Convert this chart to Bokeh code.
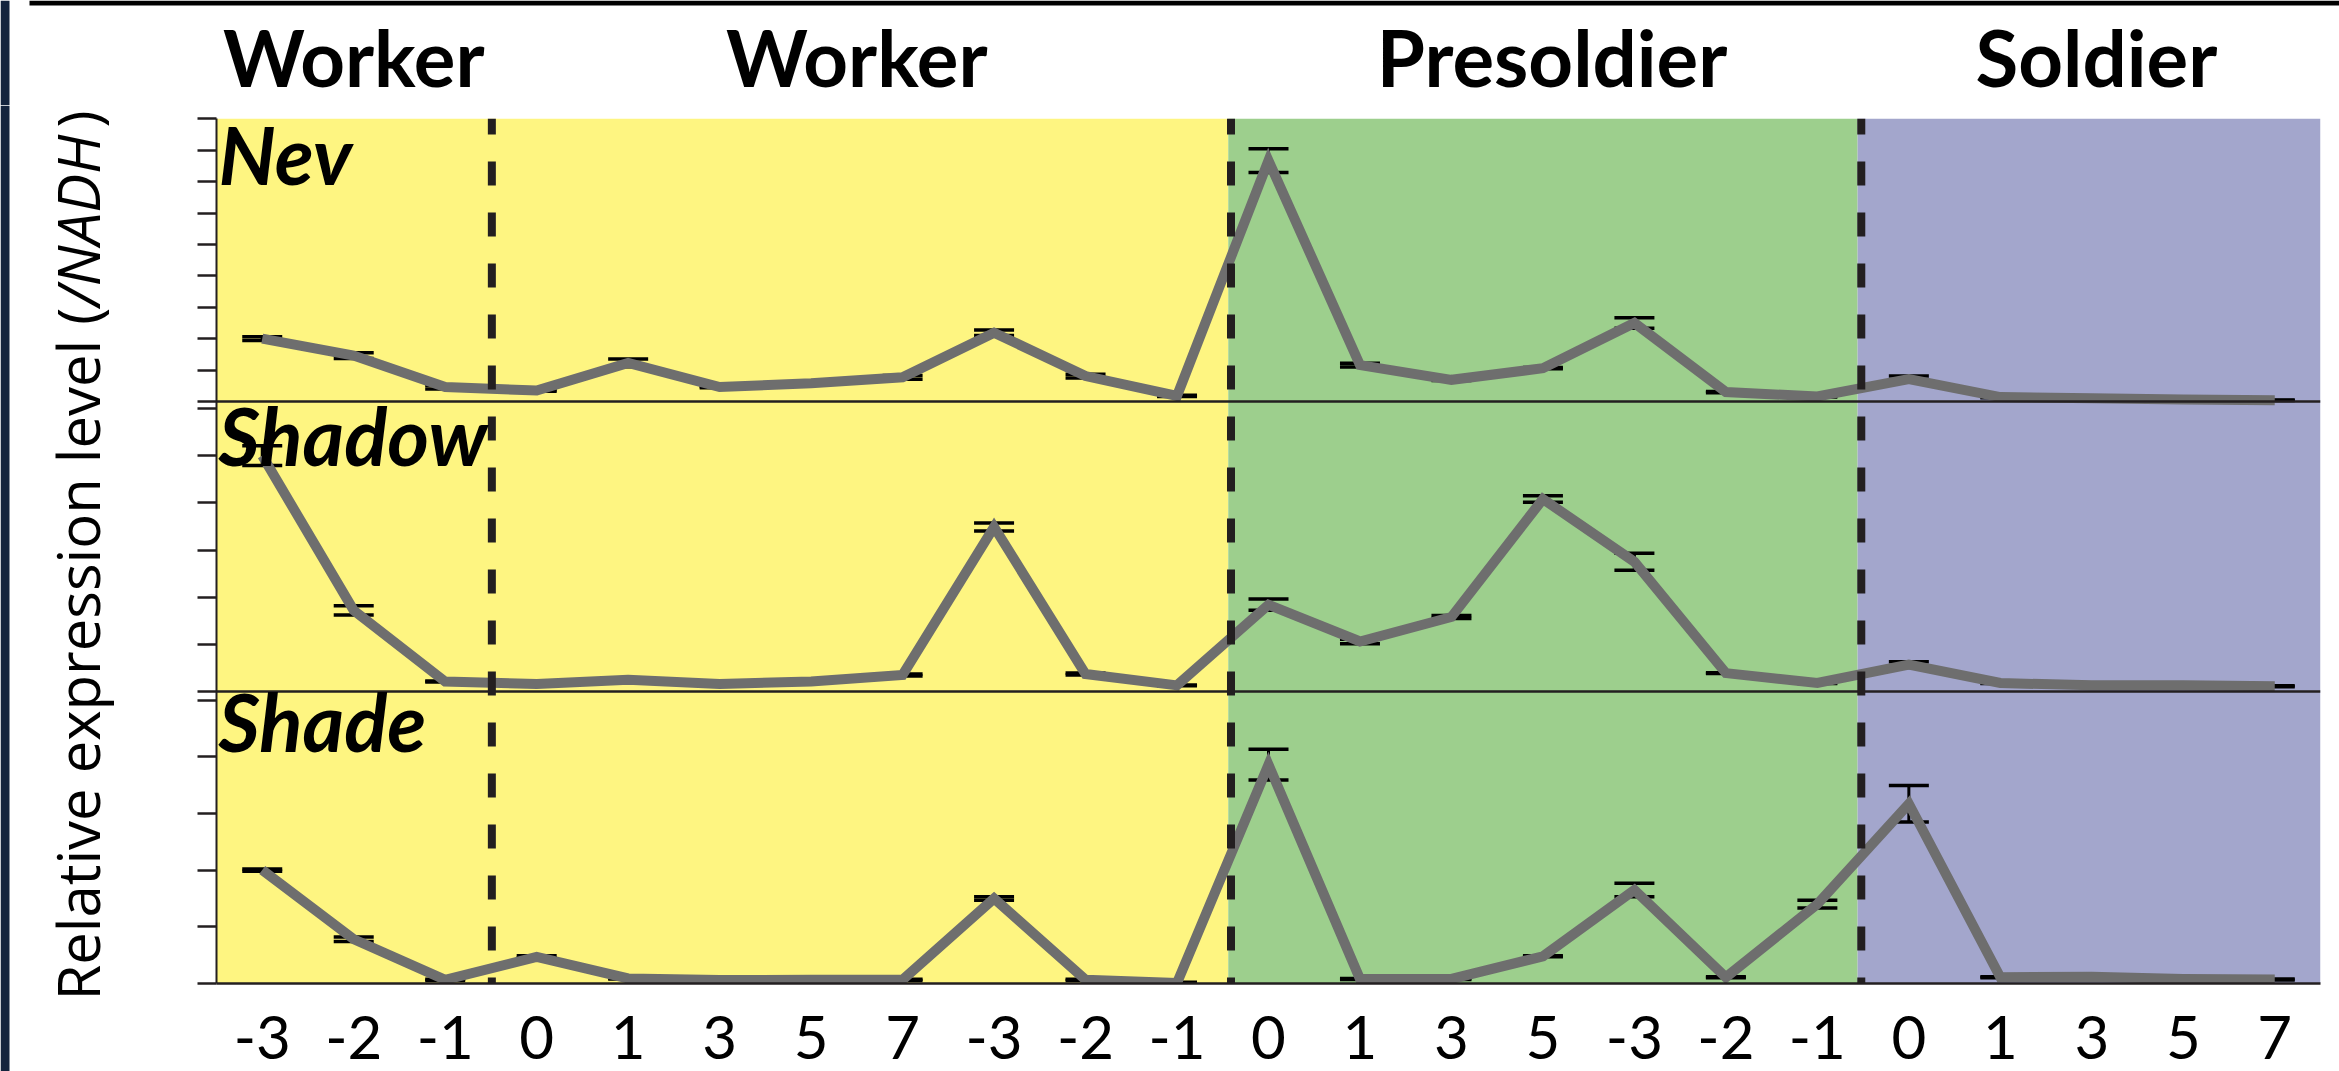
import numpy as np
from bokeh.plotting import figure
from bokeh.layouts import row, column
from bokeh.models import (Range1d, FixedTicker, CustomJSTickFormatter, BoxAnnotation,
                          Span, Label, Whisker, TeeHead, ColumnDataSource)
from bokeh.embed import file_html
from bokeh.resources import INLINE

# ---------------- data ----------------
stage_labels = ["-3", "-2", "-1", "0", "1", "3", "5", "7",
                "-3", "-2", "-1", "0", "1", "3", "5",
                "-3", "-2", "-1", "0", "1", "3", "5", "7"]

caste_names = ["Worker", "Worker", "Presoldier", "Soldier"]

nev_mean = [2.00, 1.46, 0.46, 0.35, 1.23, 0.46, 0.58, 0.77, 2.19, 0.81, 0.18,
            7.67, 1.16, 0.69, 1.06, 2.50, 0.30, 0.16,
            0.71, 0.14, 0.10, 0.06, 0.04]
nev_err = [0.06, 0.09, 0.06, 0.02, 0.12, 0.02, 0.03, 0.06, 0.09, 0.06, 0.02,
           0.38, 0.06, 0.02, 0.02, 0.17, 0.02, 0.02,
           0.10, 0.02, 0.01, 0.01, 0.01]

shadow_mean = [5.00, 1.72, 0.21, 0.16, 0.25, 0.16, 0.21, 0.35, 3.49, 0.37, 0.13,
               1.84, 1.06, 1.58, 4.08, 2.75, 0.39, 0.18,
               0.57, 0.18, 0.13, 0.13, 0.11]
shadow_err = [0.21, 0.10, 0.01, 0.01, 0.02, 0.01, 0.01, 0.02, 0.085, 0.02, 0.01,
              0.12, 0.05, 0.03, 0.07, 0.18, 0.01, 0.01,
              0.06, 0.01, 0.01, 0.01, 0.01]

shade_mean = [2.00, 0.78, 0.065, 0.47, 0.09, 0.06, 0.065, 0.065, 1.50, 0.065, 0.01,
              3.86, 0.08, 0.08, 0.48, 1.65, 0.11, 1.40,
              3.17, 0.11, 0.12, 0.08, 0.07]
shade_err = [0.02, 0.04, 0.01, 0.02, 0.01, 0.01, 0.01, 0.01, 0.03, 0.01, 0.01,
             0.27, 0.01, 0.01, 0.01, 0.12, 0.01, 0.07,
             0.32, 0.01, 0.01, 0.01, 0.01]

# ---------------- layout (page pixels) ----------------
W, H = 2339, 1071
TITLE_W = 120
HEAD_H = 105
FRAME_TOP, FRAME_BOTTOM = 118, 983
LEFT, RIGHT = 216, 2320
MAIN_W = W - TITLE_W
MAIN_H = H - HEAD_H

# panel: (page y of zero, page y of top tick, number of tick intervals)
panels = {"nev": (401.0, 118.3, 9), "shadow": (691.0, 408.0, 6), "shade": (983.0, 699.5, 5)}

def panel_range(name):
    zero, top, n = panels[name]
    k = (zero - top) / n
    return Range1d(-(FRAME_BOTTOM - zero) / k, (zero - FRAME_TOP) / k)

ranges = {k: panel_range(k) for k in panels}

def to_nev(name, v):
    r, n = ranges[name], ranges["nev"]
    f = (v - r.start) / (r.end - r.start)
    return n.start + f * (n.end - n.start)

def panel_at_px(name, py):
    r = ranges[name]
    return r.start + (FRAME_BOTTOM - py) / (FRAME_BOTTOM - FRAME_TOP) * (r.end - r.start)

def x_at_px(px):
    return -0.5 + (px - LEFT) / (RIGHT - LEFT) * 23.0

YELLOW, GREEN, PURPLE = "#fef581", "#9dcf8d", "#a3a6cc"
LINE_GRAY = "#6e6e6e"
DARK = "#231f20"
NAVY = "#14243d"

x = list(range(len(stage_labels)))
src = ColumnDataSource(dict(
    x=x,
    nev=nev_mean, nev_up=[m + e for m, e in zip(nev_mean, nev_err)], nev_lo=[m - e for m, e in zip(nev_mean, nev_err)],
    shadow=shadow_mean, shadow_up=[m + e for m, e in zip(shadow_mean, shadow_err)], shadow_lo=[m - e for m, e in zip(shadow_mean, shadow_err)],
    shade=shade_mean, shade_up=[m + e for m, e in zip(shade_mean, shade_err)], shade_lo=[m - e for m, e in zip(shade_mean, shade_err)],
))

def bare(fig, color="white"):
    fig.outline_line_color = None
    fig.grid.visible = False
    fig.background_fill_color = color
    fig.border_fill_color = color
    return fig

# ---------------- main plot ----------------
p = figure(width=MAIN_W, height=MAIN_H, x_range=Range1d(-0.5, 22.5), y_range=ranges["nev"],
           output_backend="svg", toolbar_location=None,
           min_border_left=LEFT - TITLE_W, min_border_right=W - RIGHT,
           min_border_top=FRAME_TOP - HEAD_H, min_border_bottom=H - FRAME_BOTTOM)
p.extra_y_ranges = {"shadow": ranges["shadow"], "shade": ranges["shade"]}
bare(p)

bands = [(-0.5, 10.56, YELLOW), (10.56, 17.44, GREEN), (17.44, 22.5, PURPLE)]
for l, r, c in bands:
    p.add_layout(BoxAnnotation(left=l, right=r, fill_color=c, fill_alpha=1.0,
                               line_color=None, level="underlay"))

p.add_layout(Span(location=0, dimension="width", line_color=DARK, line_width=2.5))
p.add_layout(Span(location=0, dimension="width", y_range_name="shadow", line_color=DARK, line_width=2.5))

for name in ["nev", "shadow", "shade"]:
    kw = {} if name == "nev" else {"y_range_name": name}
    p.line(x="x", y=name, source=src, line_color=LINE_GRAY, line_width=10,
           line_join="miter", **kw)

for loc in [2.51, 10.59, 17.48]:
    p.add_layout(Span(location=loc, dimension="height", line_color=DARK, line_width=8,
                      line_dash="24 27", line_dash_offset=8))

for name in ["nev", "shadow", "shade"]:
    kw = {} if name == "nev" else {"y_range_name": name}
    p.add_layout(Whisker(source=src, base="x", upper=name + "_up", lower=name + "_lo",
                         line_color="black", line_width=3,
                         upper_head=TeeHead(size=40, line_color="black", line_width=3.5),
                         lower_head=TeeHead(size=40, line_color="black", line_width=3.5), **kw))

ticks = [float(v) for v in range(0, 10)]
ticks += [to_nev("shadow", float(v)) for v in range(0, 7)]
ticks += [to_nev("shade", float(v)) for v in range(0, 6)]
p.yaxis.ticker = FixedTicker(ticks=ticks)
p.yaxis.formatter = CustomJSTickFormatter(code="return ''")
p.yaxis.major_tick_out = 19
p.yaxis.major_tick_in = 0
p.yaxis.minor_tick_out = 0
p.yaxis.minor_tick_in = 0
p.yaxis.major_tick_line_color = DARK
p.yaxis.major_tick_line_width = 2.5
p.yaxis.axis_line_color = DARK
p.yaxis.axis_line_width = 2

p.xaxis.ticker = FixedTicker(ticks=x)
p.xaxis.major_label_overrides = {i: s for i, s in enumerate(stage_labels)}
p.xaxis.major_tick_out = 0
p.xaxis.major_tick_in = 0
p.xaxis.minor_tick_out = 0
p.xaxis.minor_tick_in = 0
p.xaxis.axis_line_color = DARK
p.xaxis.axis_line_width = 2.5
p.xaxis.major_label_text_font = "Lato"
p.xaxis.major_label_text_font_size = "60px"
p.xaxis.major_label_text_color = "black"
p.xaxis.major_label_standoff = 32

# panel labels: (text, page y of the 'top' anchor)
PL_SIZE = 80
panel_label = {"nev": ("Nev", 105), "shadow": ("Shadow", 386), "shade": ("Shade", 672)}
for name, (txt, anchor_y) in panel_label.items():
    kw = {} if name == "nev" else {"y_range_name": name}
    p.add_layout(Label(x=x_at_px(218), y=panel_at_px(name, anchor_y),
                       text=txt, text_font="Lato", text_font_style="bold italic",
                       text_font_size=f"{PL_SIZE}px", text_align="left", text_baseline="top",
                       text_color="black", **kw))

# ---------------- header strip (full width) ----------------
hdr = figure(width=W, height=HEAD_H, x_range=Range1d(x_at_px(0), x_at_px(W)), y_range=Range1d(0, HEAD_H),
             output_backend="svg", toolbar_location=None, x_axis_location=None, y_axis_location=None,
             min_border_left=0, min_border_right=0, min_border_top=0, min_border_bottom=0)
bare(hdr)
hdr.add_layout(BoxAnnotation(left=x_at_px(0), right=x_at_px(9), fill_color=NAVY, fill_alpha=1.0,
                             line_color=None))
hdr.add_layout(BoxAnnotation(left=x_at_px(29), right=x_at_px(W), bottom=HEAD_H - 5, top=HEAD_H,
                             fill_color="black", fill_alpha=1.0, line_color=None))
HD_SIZE = 78
header_x = [1.0, 6.5, 14.1, 20.05]
for cx, name in zip(header_x, caste_names):
    hdr.add_layout(Label(x=cx, y=HEAD_H - 9, text=name, text_font="Lato",
                         text_font_style="bold", text_font_size=f"{HD_SIZE}px",
                         text_align="center", text_baseline="top", text_color="black"))

# ---------------- y title strip ----------------
ttl = figure(width=TITLE_W, height=MAIN_H, x_range=Range1d(0, TITLE_W), y_range=Range1d(0, MAIN_H),
             output_backend="svg", toolbar_location=None, x_axis_location=None, y_axis_location=None,
             min_border_left=0, min_border_right=0, min_border_top=0, min_border_bottom=0)
bare(ttl)
ttl.add_layout(BoxAnnotation(left=0, right=9, fill_color=NAVY, fill_alpha=1.0, line_color=None))
TT_SIZE = 58
title_parts = [("Relative expression level (", "normal", 1000),
               ("/NADH", "italic", 306),
               (")", "normal", 127)]
for txt, style, py in title_parts:
    ttl.add_layout(Label(x=37, y=H - py, text=txt, text_font="Open Sans",
                         text_font_style=style, text_font_size=f"{TT_SIZE}px", angle=np.pi / 2,
                         text_align="left", text_baseline="top", text_color="black"))

layout = column(hdr, row(column(ttl), p))
open("out.html", "w").write(file_html(layout, INLINE))
